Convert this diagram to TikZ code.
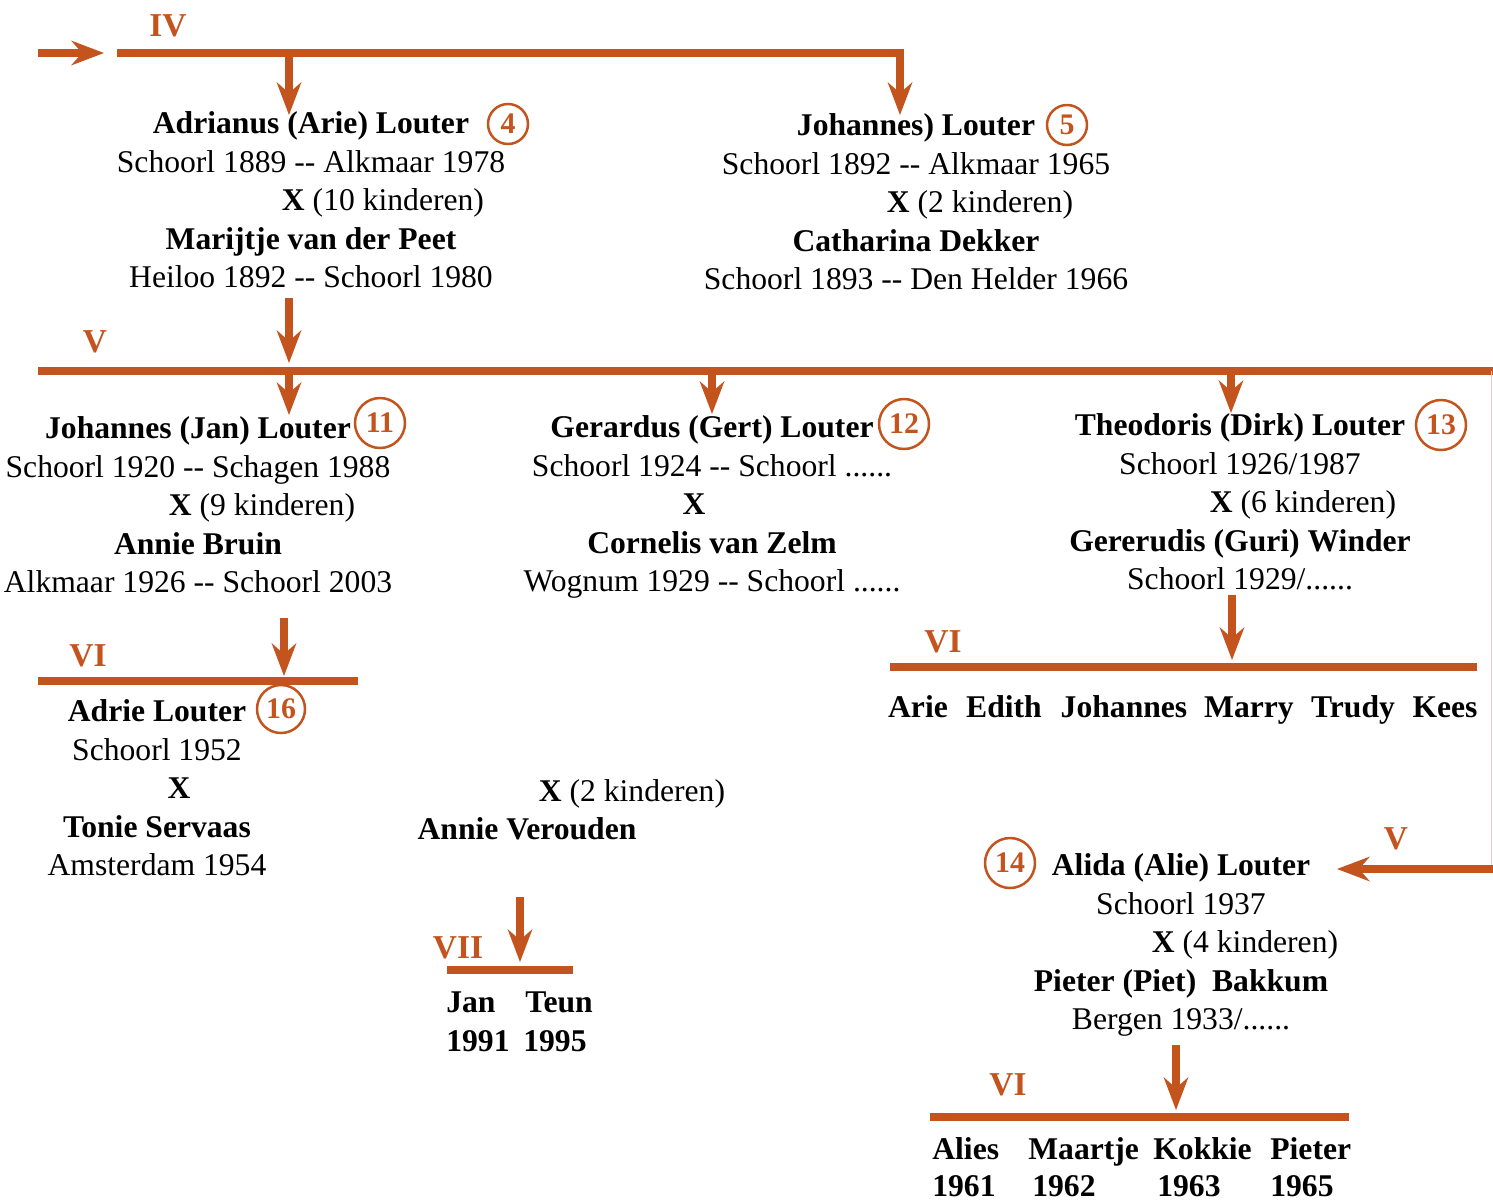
\documentclass[tikz,border=0pt]{standalone}
\usepackage{fontspec}
\setmainfont{Liberation Serif}
\usetikzlibrary{arrows.meta}
\definecolor{stamkleur}{RGB}{196,84,30}
\tikzset{
  lijn/.style={draw=stamkleur, line width=0.15cm},
  pijl/.style={lijn, -{Stealth[length=0.66cm,width=0.5cm,inset=0.22cm,line width=0pt]}},
  persoon/.style={align=center, inner sep=0pt, font=\fontsize{18}{21.9}\selectfont},
  kind/.style={anchor=base, inner sep=0pt, font=\fontsize{18}{21.9}\selectfont\bfseries},
  gen/.style={anchor=base, inner sep=0pt, text=stamkleur, font=\fontsize{19}{22}\selectfont\bfseries},
  nr/.style={circle, draw=stamkleur, line width=0.05cm, inner sep=0pt, minimum size=1cm,
    text=stamkleur, font=\fontsize{17}{20}\selectfont\bfseries},
}

\begin{document}
\begin{tikzpicture}[x=0.02cm, y=-0.02cm]
	\useasboundingbox (0,0) rectangle (1493,1201);
	
	%%%%% GENERATIE IV %%%%%
	\node[gen] (gen4) at (168,36) {IV};
	\coordinate (iv-in) at (38,53);
	\coordinate (iv-a) at (117,53);
	\coordinate (iv-b) at (900,53);
	\coordinate (arie-in) at (289,115);
	\coordinate (jo5-in) at (900,115);
	\draw[pijl] (iv-in) -- (104,53);
	\draw[pijl] (iv-a) -- (iv-b) -- (jo5-in);
	\draw[pijl] (arie-in |- iv-a) -- (arie-in);
	
	\node[persoon] (arie) at (311,200) {\textbf{Adrianus (Arie) Louter}\\
		Schoorl 1889 -{}- Alkmaar 1978\\
		\hspace*{2.88cm}\textbf{X} (10 kinderen)\\
		\textbf{Marijtje van der Peet}\\
		Heiloo 1892 -{}- Schoorl 1980};
	\node[nr, minimum size=0.8cm] (nr4) at (508,124) {4};
	
	\node[persoon] (jo5) at (916,202) {\textbf{Johannes) Louter}\\
		Schoorl 1892 -{}- Alkmaar 1965\\
		\hspace*{2.56cm}\textbf{X} (2 kinderen)\\
		\textbf{Catharina Dekker}\\
		Schoorl 1893 -{}- Den Helder 1966};
	\node[nr, minimum size=0.8cm] (nr5) at (1067,125) {5};
	
	%%%%% GENERATIE V %%%%%
	\node[gen] (gen5) at (95,352) {V};
	\coordinate (arie-out) at (289,298);
	\coordinate (v-in) at (289,363);
	\coordinate (v-a) at (38,371);
	\coordinate (v-b) at (1497,371);
	\coordinate (jan-in) at (289,415);
	\coordinate (gert-in) at (712,414);
	\coordinate (dirk-in) at (1231,413);
	\coordinate (alie-in) at (1337,869);
	\draw[pijl] (arie-out) -- (v-in);
	\draw[lijn] (v-a) -- (v-b);
	\draw[pijl] (jan-in |- v-a) -- (jan-in);
	\draw[pijl] (gert-in |- v-a) -- (gert-in);
	\draw[pijl] (dirk-in |- v-a) -- (dirk-in);
	\draw[draw=stamkleur!30, line width=0.02cm] (1491,371) -- (1491,869);
	\draw[pijl] (1497,869) -- (alie-in);
	
	\node[persoon] (jan) at (198,505) {\textbf{Johannes (Jan) Louter}\\
		Schoorl 1920 -{}- Schagen 1988\\
		\hspace*{2.56cm}\textbf{X} (9 kinderen)\\
		\textbf{Annie Bruin}\\
		Alkmaar 1926 -{}- Schoorl 2003};
	\node[nr] (nr11) at (380,423) {11};
	
	\node[persoon] (gert) at (712,507) {\textbf{Gerardus (Gert) Louter}\\
		Schoorl 1924 -{}- Schoorl ......\\
		\mbox{\textbf{X}\hspace{0.72cm}}\\
		\textbf{Cornelis van Zelm}\\
		Wognum 1929 -{}- Schoorl ......};
	\node[nr] (nr12) at (904,424) {12};
	
	\node[persoon] (dirk) at (1240,502) {\textbf{Theodoris (Dirk) Louter}\\
		Schoorl 1926/1987\\
		\hspace*{2.52cm}\textbf{X} (6 kinderen)\\
		\textbf{Gererudis (Guri) Winder}\\
		Schoorl 1929/......};
	\node[nr] (nr13) at (1441,425) {13};
	
	\node[gen] (gen5b) at (1396,849) {V};
	\node[persoon] (alie) at (1181,945) {\textbf{Alida (Alie) Louter}\\
		Schoorl 1937\\
		\hspace*{2.56cm}\textbf{X} (4 kinderen)\\
		\textbf{Pieter (Piet)\ \ Bakkum}\\
		Bergen 1933/......};
	\node[nr] (nr14) at (1010,863) {14};
	
	%%%%% GENERATIE VI %%%%%
	\node[gen] (gen6a) at (88,666) {VI};
	\coordinate (jan-out) at (284,618);
	\coordinate (adrie-in) at (284,676);
	\draw[pijl] (jan-out) -- (adrie-in);
	\draw[lijn] (38,681) -- (358,681);
	
	\node[persoon] (adrie) at (157,788) {\textbf{Adrie Louter}\\
		Schoorl 1952\\
		\hspace*{0.88cm}\textbf{X}\\
		\textbf{Tonie Servaas}\\
		Amsterdam 1954};
	\node[nr, minimum size=0.96cm] (nr16) at (281,709) {16};
	
	\node[persoon] (annie) at (527,810) {\hspace*{4.2cm}\textbf{X} (2 kinderen)\\
		\textbf{Annie Verouden}};
	
	\node[gen] (gen6b) at (943,652) {VI};
	\coordinate (dirk-out) at (1232,595);
	\coordinate (dirk-kind) at (1232,660);
	\draw[pijl] (dirk-out) -- (dirk-kind);
	\draw[lijn] (890,667) -- (1477,667);
	\node[kind] (k-arie) at (918,717) {Arie};
	\node[kind] (k-edith) at (1004,717) {Edith};
	\node[kind] (k-johannes) at (1124,717) {Johannes};
	\node[kind] (k-marry) at (1249,717) {Marry};
	\node[kind] (k-trudy) at (1353,717) {Trudy};
	\node[kind] (k-kees) at (1445,717) {Kees};
	
	\node[gen] (gen6c) at (1008,1095) {VI};
	\coordinate (alie-out) at (1176,1045);
	\coordinate (alie-kind) at (1176,1110);
	\draw[pijl] (alie-out) -- (alie-kind);
	\draw[lijn] (930,1117) -- (1349,1117);
	\node[kind, anchor=base west] (k-alies) at (932,1159) {Alies};
	\node[kind, anchor=base west] (k-maartje) at (1028,1159) {Maartje};
	\node[kind, anchor=base west] (k-kokkie) at (1153,1159) {Kokkie};
	\node[kind, anchor=base west] (k-pieter) at (1270,1159) {Pieter};
	\node[kind, anchor=base west] (j-alies) at (932,1196) {1961};
	\node[kind, anchor=base west] (j-maartje) at (1032,1196) {1962};
	\node[kind, anchor=base west] (j-kokkie) at (1157,1196) {1963};
	\node[kind, anchor=base west] (j-pieter) at (1270,1196) {1965};
	
	%%%%% GENERATIE VII %%%%%
	\node[gen] (gen7) at (458,958) {VII};
	\coordinate (annie-out) at (520,897);
	\coordinate (annie-kind) at (520,962);
	\draw[pijl] (annie-out) -- (annie-kind);
	\draw[lijn] (447,970) -- (573,970);
	\node[kind, anchor=base west] (k-jan) at (446,1012) {Jan};
	\node[kind, anchor=base west] (k-teun) at (525,1012) {Teun};
	\node[kind, anchor=base west] (j-jan) at (446,1051) {1991};
	\node[kind, anchor=base west] (j-teun) at (523,1051) {1995};
\end{tikzpicture}
\end{document}
